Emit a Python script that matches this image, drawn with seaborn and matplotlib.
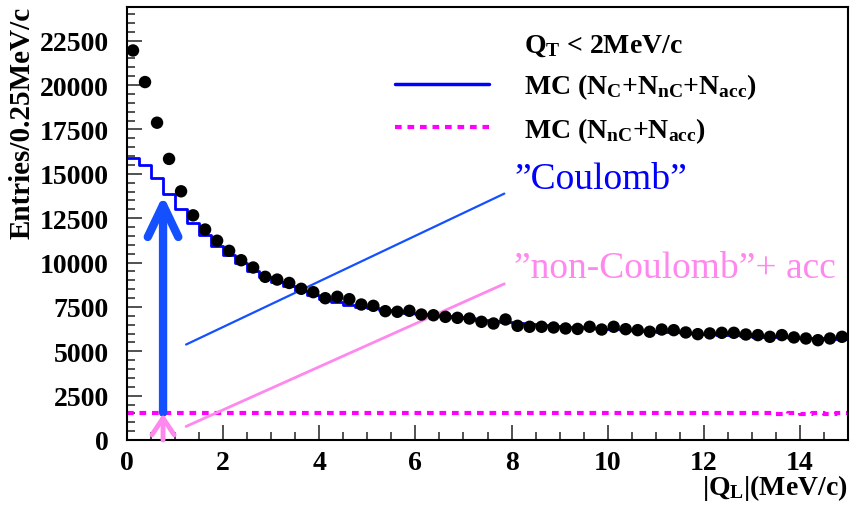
import numpy as np
import pandas as pd

import seaborn as sns
import matplotlib.pyplot as plt
from matplotlib.lines import Line2D

# bins of |Q_L| (MeV/c), 0.25 wide
bin_edges = np.arange(0, 15.001, 0.25)
bin_centers = (bin_edges[:-1] + bin_edges[1:]) / 2

# data points (entries per bin)
data_entries = [21950, 20170, 17880, 15840, 14015, 12660, 11860, 11230, 10660, 10130,
                9720, 9195, 9040, 8850, 8520, 8330, 7990, 8070, 7935, 7635,
                7560, 7260, 7225, 7280, 7070, 7030, 6940, 6885, 6845, 6660,
                6565, 6790, 6435, 6380, 6380, 6340, 6285, 6260, 6380, 6225,
                6380, 6245, 6190, 6100, 6225, 6190, 6060, 5965, 6005, 6040,
                6040, 5945, 5910, 5815, 5910, 5780, 5720, 5625, 5720, 5815]

# MC (N_C + N_nC + N_acc)
mc_total = [15890, 15480, 14770, 13885, 13000, 12250, 11575, 10940, 10410, 9980,
            9535, 9195, 8915, 8670, 8410, 8160, 7920, 7760, 7620, 7510,
            7420, 7330, 7250, 7180, 7110, 7040, 6980, 6910, 6850, 6780,
            6710, 6640, 6570, 6510, 6460, 6415, 6380, 6340, 6310, 6270,
            6240, 6200, 6170, 6130, 6100, 6060, 6030, 5990, 5950, 5920,
            5890, 5860, 5830, 5800, 5780, 5760, 5740, 5720, 5700, 5690]

# MC (N_nC + N_acc)
mc_noncoul = [1540, 1545, 1540, 1540, 1535, 1540, 1530, 1535, 1540, 1535,
              1530, 1535, 1530, 1535, 1530, 1540, 1535, 1530, 1525, 1530,
              1520, 1525, 1530, 1520, 1525, 1520, 1515, 1520, 1525, 1510,
              1515, 1520, 1515, 1520, 1510, 1515, 1505, 1510, 1515, 1505,
              1510, 1500, 1505, 1510, 1500, 1505, 1500, 1505, 1500, 1495,
              1500, 1505, 1500, 1495, 1490, 1495, 1490, 1495, 1490, 1495]

df = pd.DataFrame({"ql": bin_centers, "data": data_entries,
                   "mc": mc_total, "mc_nc": mc_noncoul})

# annotation pointers (start, end) for the labels
coul_line = [(1.23, 5380), (7.85, 13885)]
noncoul_line = [(1.23, 765), (7.85, 8800)]
arrow_bin = 3

blue = "#0000ff"
magenta = "#ff00ff"
arrow_blue = "#1450ff"
pink = "#ff88ee"

sns.set_theme(style="ticks")
plt.rcParams["font.family"] = ["Liberation Serif", "DejaVu Serif"]
plt.rcParams["mathtext.fontset"] = "custom"
plt.rcParams["mathtext.rm"] = "Liberation Serif:bold"
plt.rcParams["mathtext.bf"] = "Liberation Serif:bold"
plt.rcParams["mathtext.it"] = "Liberation Serif:bold"
plt.rcParams["text.color"] = "black"
plt.rcParams["axes.labelcolor"] = "black"
plt.rcParams["xtick.color"] = "black"
plt.rcParams["ytick.color"] = "black"

fig = plt.figure(figsize=(8.51, 5.10), dpi=100)
ax = fig.add_axes([127 / 851, 1 - 441 / 510, 721 / 851, 433 / 510])

sns.histplot(data=df, x="ql", weights="mc", binwidth=0.25, binrange=(0, 15),
             element="step", fill=False, color=blue, lw=2, ax=ax)
sns.histplot(data=df, x="ql", weights="mc_nc", binwidth=0.25, binrange=(0, 15),
             element="step", fill=False, color=magenta, lw=3,
             linestyle=(0, (1.6, 1.4)), ax=ax)
sns.scatterplot(data=df, x="ql", y="data", color="black", s=80,
                edgecolor="none", zorder=5, ax=ax)

# arrows at the first bins
xa = bin_edges[arrow_bin]
ax.annotate("", xy=(xa, mc_total[arrow_bin] - 100), xytext=(xa, mc_noncoul[arrow_bin]),
            arrowprops=dict(arrowstyle="->,head_length=2.3,head_width=1.1",
                            lw=6, color=arrow_blue, shrinkA=0, shrinkB=0,
                            mutation_scale=10, capstyle="round"))
ax.annotate("", xy=(xa, mc_noncoul[arrow_bin] - 60), xytext=(xa, 0),
            arrowprops=dict(arrowstyle="->,head_length=1.2,head_width=0.8",
                            lw=3.5, color=pink, shrinkA=0, shrinkB=0,
                            mutation_scale=10))

ax.plot(*zip(*coul_line), color=arrow_blue, lw=1.6)
ax.plot(*zip(*noncoul_line), color=pink, lw=2)
ax.text(8.06, 14700, "\u201dCoulomb\u201d", color=blue, fontsize=27,
        va="center", ha="left")
ax.text(8.06, 9700, "\u201dnon-Coulomb\u201d+ acc", color=pink, fontsize=27,
        va="center", ha="left")

# legend
handles = [Line2D([], [], color="none"),
           Line2D([], [], color=blue, lw=2.5),
           Line2D([], [], color=magenta, lw=3, linestyle=(0, (1.6, 1.4)))]
labels = [r"Q$_{\mathbf{T}}$ < 2MeV/c",
          r"MC (N$_{\mathbf{C}}$+N$_{\mathbf{nC}}$+N$_{\mathbf{acc}}$)",
          r"MC (N$_{\mathbf{nC}}$+N$_{\mathbf{acc}}$)"]
ax.legend(handles, labels, loc="upper left", bbox_to_anchor=(0.337, 1.0),
          frameon=False, prop=dict(family="Liberation Serif", weight="bold", size=20),
          handlelength=3.4, handletextpad=1.26, labelspacing=0.5,
          labelcolor="black")

ax.set_xlim(0, 15)
ax.set_ylim(0, 24400)
ax.set_xticks(np.arange(0, 15, 2))
ax.set_xticks(np.arange(0, 15.01, 0.5), minor=True)
ax.set_yticks(np.arange(0, 22501, 2500))
ax.set_yticks(np.arange(0, 24401, 500), minor=True)
ax.tick_params(which="both", direction="in", top=False, right=False, width=1.2,
               color="#333333", labelcolor="black")
ax.tick_params(which="major", length=11)
ax.tick_params(which="minor", length=6)
ax.tick_params(axis="y", which="major", pad=13)
ax.tick_params(axis="x", which="major", pad=7)
for lab in ax.get_xticklabels() + ax.get_yticklabels():
    lab.set_fontsize(20)
    lab.set_fontweight("bold")

for sp in ax.spines.values():
    sp.set_visible(True)
    sp.set_color("black")
    sp.set_linewidth(1.5)

ax.set_ylabel("Entries/0.25MeV/c", fontsize=21, fontweight="bold", loc="top")
ax.yaxis.set_label_coords(-0.127, 1.003)
ax.set_xlabel(r"|Q$_{\mathbf{L}}$|(MeV/c)", fontsize=20, fontweight="bold", loc="right")
ax.xaxis.set_label_coords(1.0, -0.075)

plt.savefig("out.png", dpi=100)
